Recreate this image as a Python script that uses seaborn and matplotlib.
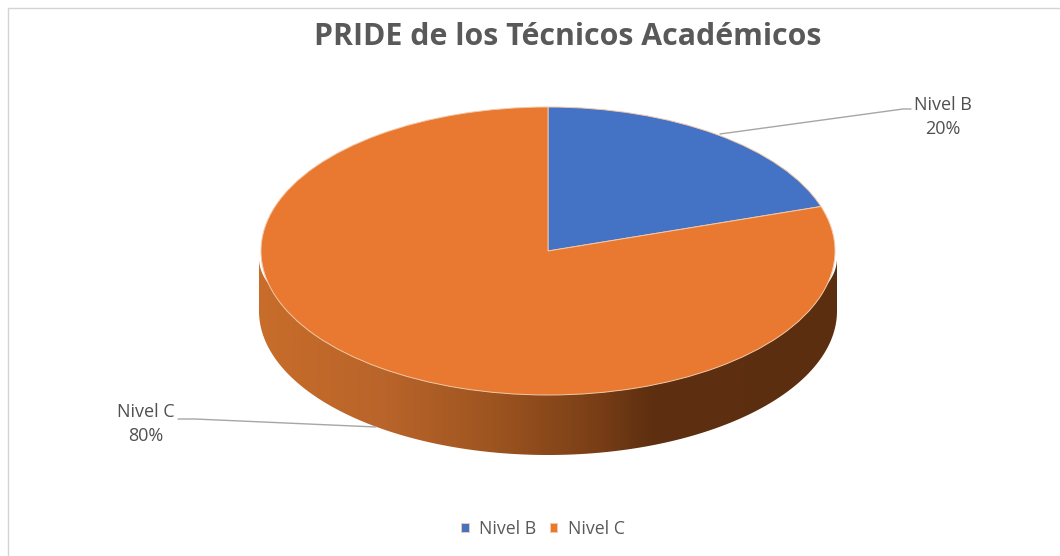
import numpy as np
import matplotlib
matplotlib.use("Agg")
import matplotlib.pyplot as plt
from matplotlib.colors import LinearSegmentedColormap
from matplotlib.lines import Line2D
from matplotlib.patches import PathPatch
from matplotlib.path import Path
import seaborn as sns

title = "PRIDE de los Técnicos Académicos"
niveles = ["Nivel B", "Nivel C"]
valores = [20, 80]
colores = ["#4472C4", "#E97830"]

W, H = 1060, 556
CX, CY, RX, RY = 548, 251, 287, 144   # top ellipse, in pixels
DEPTH = 60

sns.set_theme(style="white")
plt.rcParams["font.family"] = ["Open Sans", "DejaVu Sans"]

fig = plt.figure(figsize=(W / 100, H / 100), dpi=100, facecolor="white")
ax = fig.add_axes([0, 0, 1, 1])


def fx(x):
    return x / W


def fy(y):
    return 1 - y / H


# ── Top of the pie ────────────────────────────────────────────────────────────
wedges, _ = ax.pie(valores, colors=sns.color_palette(colores), startangle=90,
                   counterclock=False, radius=1, frame=False,
                   wedgeprops={"edgecolor": "#F3C9A8", "linewidth": 0.7, "zorder": 3})
ax.set_aspect("auto")
ax.axis("off")

# ── Side wall with its shading ────────────────────────────────────────────────
d = DEPTH / RY
t = np.linspace(np.pi, 2 * np.pi, 200)
rim = np.r_[np.cos(t) * 1.007, np.cos(t[::-1]) * 1.007]
wall = np.r_[np.sin(t) - d, np.sin(t[::-1]) * 0.7 - 0.05]
verts = np.column_stack([rim, wall])
codes = [Path.MOVETO] + [Path.LINETO] * (len(verts) - 2) + [Path.CLOSEPOLY]
clip = PathPatch(Path(verts, codes), facecolor="none", edgecolor="none", transform=ax.transData)
ax.add_patch(clip)

shade = LinearSegmentedColormap.from_list("wall", [
    (0.00, "#C86D2A"), (0.22, "#B9642A"), (0.40, "#9E5520"),
    (0.58, "#7A3F17"), (0.68, "#5E2F10"), (1.00, "#5C2E10")])
img = ax.imshow(np.linspace(0, 1, 256)[None, :], cmap=shade, aspect="auto", zorder=2,
                extent=[-1.01, 1.01, -1 - d, 0.1], interpolation="bilinear")
img.set_clip_path(clip)
ax.set_xlim(-CX / RX, (W - CX) / RX)
ax.set_ylim((CY - H) / RY, CY / RY)

# ── Frame, title ──────────────────────────────────────────────────────────────
for xs, ys in [([8, 8], [8, H]), ([8, W], [8, 8])]:
    fig.add_artist(Line2D([fx(v) for v in xs], [fy(v) for v in ys], color="#D4D4D4", lw=1))

fig.text(fx(567.5), fy(37), title, ha="center", va="center", fontsize=21.8,
         fontweight="bold", color="#595959")

# ── Data labels and leader lines ──────────────────────────────────────────────
label_pos = [(943, 117), (146, 424)]
leaders = [([720, 903, 911], [134, 109, 109]), ([178, 195, 376], [419, 419, 427])]
for nivel, valor, (lx, ly), (xs, ys) in zip(niveles, valores, label_pos, leaders):
    fig.text(fx(lx), fy(ly), f"{nivel}\n{valor}%", ha="center", va="center",
             fontsize=13, color="#505050", linespacing=1.38)
    fig.add_artist(Line2D([fx(v) for v in xs], [fy(v) for v in ys], color="#A6A6A6", lw=1))

# ── Legend ────────────────────────────────────────────────────────────────────
ax.legend(wedges, niveles, loc="center", bbox_to_anchor=(fx(543), fy(529)), ncol=2,
          frameon=False, fontsize=12.8, labelcolor="#595959", handlelength=0.4,
          handleheight=0.4, handletextpad=0.6, columnspacing=0.75)

fig.savefig("out.png", dpi=100)
